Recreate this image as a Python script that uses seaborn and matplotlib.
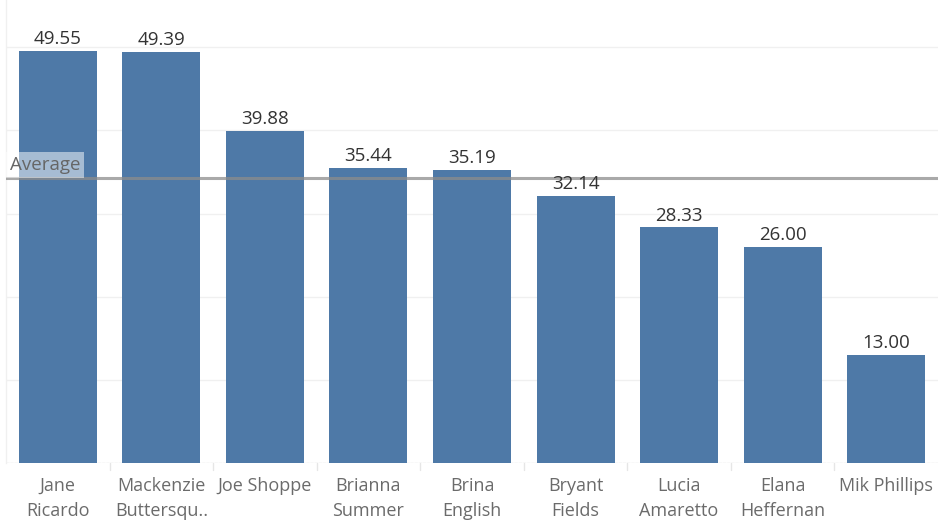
import matplotlib
matplotlib.use("Agg")
import matplotlib.pyplot as plt
import seaborn as sns
import pandas as pd
import numpy as np

names = ["Jane\nRicardo", "Mackenzie\nButtersqu..", "Joe Shoppe", "Brianna\nSummer",
         "Brina\nEnglish", "Bryant\nFields", "Lucia\nAmaretto", "Elana\nHeffernan",
         "Mik Phillips"]
values = [49.55, 49.39, 39.88, 35.44, 35.19, 32.14, 28.33, 26.00, 13.00]
grid_ticks = [0, 10, 20, 30, 40, 50]

df = pd.DataFrame({"name": names, "value": values})

sns.set_theme(style="white")
plt.rcParams["font.family"] = ["Open Sans", "DejaVu Sans"]

fig = plt.figure(figsize=(9.38, 5.22), dpi=100)
ax = fig.add_axes([6 / 938, 59 / 522, 932 / 938, 463 / 522])

sns.barplot(data=df, x="name", y="value", color="#4e79a7", saturation=1,
            width=0.753, linewidth=0, ax=ax, zorder=2)

ax.set_ylim(0, 55.68)
ax.set_xlim(-0.5, len(names) - 0.5)
ax.set_yticks(grid_ticks)
ax.set_yticklabels([])
ax.tick_params(axis="y", length=0)
ax.grid(axis="y", color="#f0f0f0", linewidth=1, zorder=0)
ax.set_axisbelow(True)
for s in ["top", "right", "bottom"]:
    ax.spines[s].set_visible(False)
ax.spines["left"].set_color("#f0f0f0")
ax.spines["left"].set_linewidth(1)
ax.set_xlabel("")
ax.set_ylabel("")

# category dividers below the baseline
ax.set_xticks(np.arange(len(names)))
ax.set_xticklabels(names, fontsize=13, color="#6b6b6b", linespacing=1.5)
ax.tick_params(axis="x", length=0, pad=10)
for i in range(1, len(names)):
    ax.plot([i - 0.5, i - 0.5], [0, -0.9], color="#e6e6e6", lw=1,
            clip_on=False, zorder=1)
ax.axhline(0, color="#e8e8e8", lw=1, ls=(0, (2, 1)), zorder=1)

# value labels
for i, v in enumerate(values):
    ax.text(i, v + 0.35, f"{v:.2f}", ha="center", va="bottom",
            fontsize=13.5, color="#333333", zorder=4)

# reference line at the mean
avg = float(np.mean(values))
ax.axhline(avg, color="#8c8c8c", lw=2.2, alpha=0.75, zorder=3)
ax.text(0.0045, avg + 0.45, "Average", transform=ax.get_yaxis_transform(),
        ha="left", va="bottom", fontsize=13.5, color="#666666", zorder=5,
        bbox=dict(boxstyle="square,pad=0.2", facecolor="white",
                  edgecolor="none", alpha=0.5))

fig.savefig("out.png", dpi=100)
